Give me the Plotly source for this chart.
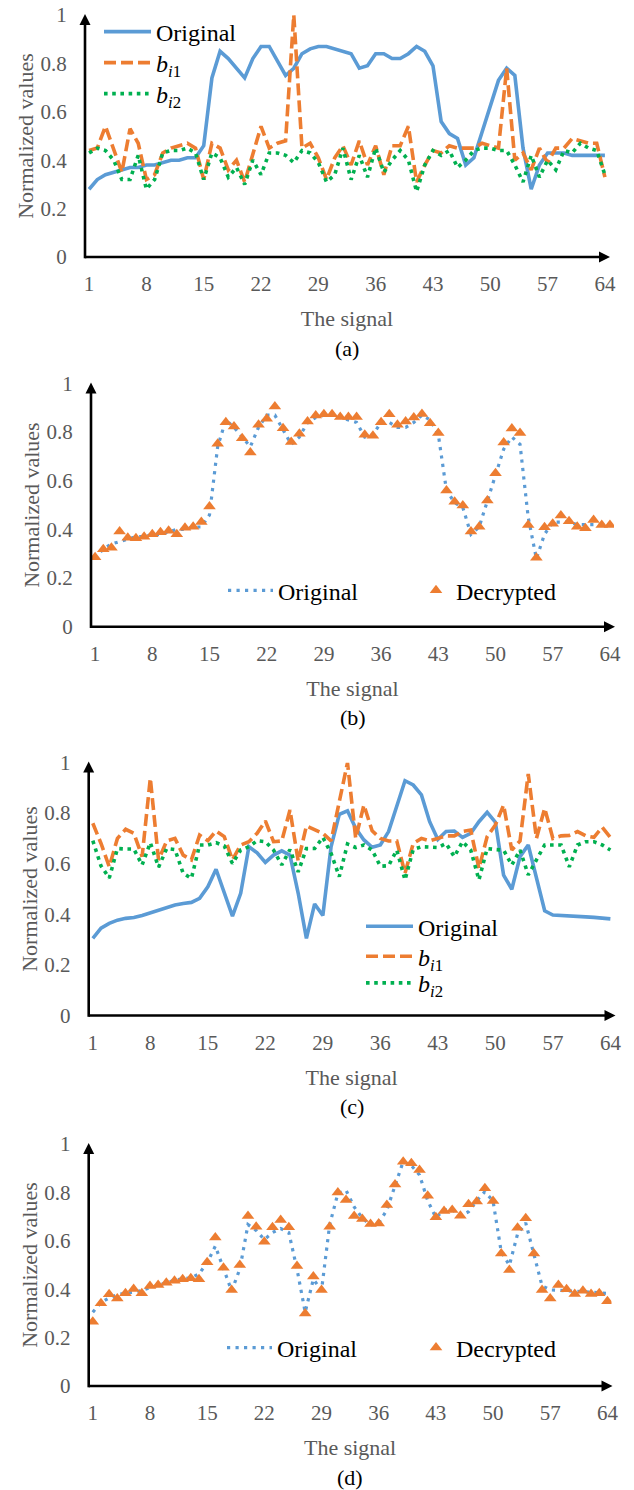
import plotly.graph_objects as go

# ---------------- data ----------------
signal_index = list(range(1, 65))
x_tick_values = [1, 8, 15, 22, 29, 36, 43, 50, 57, 64]
x_tick_labels = ["1", "8", "15", "22", "29", "36", "43", "50", "57", "64"]
y_tick_values = [0, 0.2, 0.4, 0.6, 0.8, 1]
y_tick_labels = ["0", "0.2", "0.4", "0.6", "0.8", "1"]

original_ab = [0.28, 0.32, 0.34, 0.35, 0.36, 0.37, 0.37, 0.38, 0.38, 0.39,
               0.40, 0.40, 0.41, 0.41, 0.46, 0.74, 0.85, 0.82, 0.78, 0.74,
               0.82, 0.87, 0.87, 0.81, 0.75, 0.78, 0.84, 0.86, 0.87, 0.87,
               0.86, 0.85, 0.84, 0.78, 0.79, 0.84, 0.84, 0.82, 0.82, 0.84,
               0.87, 0.85, 0.79, 0.56, 0.51, 0.49, 0.38, 0.41, 0.52, 0.63,
               0.73, 0.78, 0.75, 0.45, 0.28, 0.38, 0.43, 0.43, 0.43, 0.42,
               0.42, 0.42, 0.42, 0.42]
bi1_a = [0.44, 0.45, 0.54, 0.45, 0.35, 0.53, 0.47, 0.32, 0.34, 0.43,
         0.45, 0.46, 0.47, 0.45, 0.32, 0.47, 0.45, 0.36, 0.40, 0.31,
         0.43, 0.54, 0.45, 0.47, 0.48, 1.00, 0.45, 0.47, 0.41, 0.32,
         0.41, 0.46, 0.38, 0.48, 0.38, 0.46, 0.34, 0.46, 0.46, 0.54,
         0.31, 0.38, 0.44, 0.43, 0.46, 0.45, 0.45, 0.45, 0.47, 0.46,
         0.45, 0.78, 0.40, 0.43, 0.36, 0.45, 0.39, 0.45, 0.45, 0.49,
         0.48, 0.47, 0.47, 0.33]
bi2_a = [0.43, 0.45, 0.44, 0.40, 0.32, 0.32, 0.42, 0.28, 0.32, 0.43,
         0.44, 0.44, 0.45, 0.43, 0.32, 0.43, 0.41, 0.33, 0.37, 0.30,
         0.40, 0.34, 0.43, 0.43, 0.42, 0.39, 0.44, 0.43, 0.39, 0.31,
         0.34, 0.45, 0.32, 0.42, 0.33, 0.45, 0.35, 0.40, 0.44, 0.40,
         0.27, 0.38, 0.44, 0.42, 0.44, 0.37, 0.40, 0.44, 0.45, 0.45,
         0.44, 0.44, 0.38, 0.31, 0.42, 0.33, 0.40, 0.36, 0.44, 0.43,
         0.47, 0.45, 0.44, 0.34]
decrypted_b = [0.286, 0.318, 0.325, 0.391, 0.366, 0.364, 0.370, 0.380, 0.388, 0.395,
               0.380, 0.407, 0.411, 0.430, 0.494, 0.752, 0.841, 0.823, 0.775, 0.716,
               0.830, 0.855, 0.905, 0.816, 0.759, 0.793, 0.844, 0.868, 0.874, 0.874,
               0.862, 0.862, 0.862, 0.789, 0.785, 0.841, 0.874, 0.830, 0.844, 0.860,
               0.875, 0.837, 0.796, 0.560, 0.514, 0.498, 0.391, 0.411, 0.519, 0.631,
               0.757, 0.815, 0.796, 0.418, 0.284, 0.409, 0.423, 0.457, 0.434, 0.411,
               0.405, 0.439, 0.418, 0.418]
original_cd = [0.305, 0.345, 0.364, 0.377, 0.384, 0.387, 0.395, 0.406, 0.417, 0.428,
               0.437, 0.443, 0.447, 0.463, 0.509, 0.578, 0.483, 0.393, 0.483, 0.667,
               0.643, 0.605, 0.634, 0.651, 0.634, 0.483, 0.305, 0.441, 0.395, 0.667,
               0.795, 0.809, 0.740, 0.694, 0.665, 0.674, 0.727, 0.832, 0.928, 0.911,
               0.872, 0.766, 0.696, 0.727, 0.729, 0.704, 0.720, 0.766, 0.803, 0.764,
               0.555, 0.499, 0.628, 0.674, 0.549, 0.414, 0.397, 0.396, 0.394, 0.392,
               0.390, 0.388, 0.386, 0.382]
bi1_c = [0.760, 0.680, 0.588, 0.700, 0.736, 0.720, 0.628, 0.938, 0.615, 0.690,
         0.700, 0.634, 0.615, 0.713, 0.691, 0.729, 0.707, 0.615, 0.674, 0.687,
         0.720, 0.769, 0.687, 0.690, 0.812, 0.610, 0.749, 0.733, 0.720, 0.690,
         0.852, 0.999, 0.700, 0.832, 0.730, 0.700, 0.690, 0.690, 0.562, 0.680,
         0.700, 0.690, 0.700, 0.710, 0.710, 0.727, 0.733, 0.581, 0.707, 0.753,
         0.832, 0.654, 0.690, 0.955, 0.700, 0.819, 0.700, 0.710, 0.712, 0.727,
         0.710, 0.704, 0.744, 0.704]
bi2_c = [0.691, 0.591, 0.543, 0.660, 0.658, 0.658, 0.595, 0.683, 0.586, 0.660,
         0.656, 0.562, 0.542, 0.674, 0.674, 0.683, 0.670, 0.601, 0.654, 0.667,
         0.691, 0.687, 0.654, 0.595, 0.656, 0.568, 0.660, 0.660, 0.704, 0.641,
         0.549, 0.678, 0.664, 0.674, 0.654, 0.590, 0.592, 0.654, 0.536, 0.656,
         0.667, 0.667, 0.664, 0.680, 0.628, 0.687, 0.654, 0.536, 0.660, 0.656,
         0.654, 0.595, 0.654, 0.556, 0.614, 0.674, 0.674, 0.674, 0.588, 0.674,
         0.687, 0.687, 0.674, 0.654]
decrypted_d = [0.266, 0.342, 0.379, 0.362, 0.383, 0.401, 0.383, 0.413, 0.417, 0.427,
               0.435, 0.441, 0.445, 0.441, 0.511, 0.614, 0.489, 0.397, 0.500, 0.702,
               0.658, 0.596, 0.656, 0.686, 0.656, 0.496, 0.300, 0.452, 0.397, 0.658,
               0.800, 0.769, 0.702, 0.690, 0.669, 0.672, 0.748, 0.833, 0.927, 0.920,
               0.893, 0.786, 0.697, 0.723, 0.727, 0.704, 0.751, 0.762, 0.817, 0.764,
               0.548, 0.479, 0.654, 0.693, 0.548, 0.397, 0.362, 0.417, 0.400, 0.380,
               0.394, 0.380, 0.383, 0.350]
captions = ["(a)", "(b)", "(c)", "(d)"]
x_title = "The signal"
y_title = "Normalized values"
name_original = "Original"
name_decrypted = "Decrypted"
name_bi1 = "<i>b</i><sub><i>i</i>1</sub>"
name_bi2 = "<i>b</i><sub><i>i</i>2</sub>"

# ---------------- styling ----------------
W, H = 634, 1490
FONT = "Liberation Serif"
GRAY = "#595959"
BLUE = "#5B9BD5"
ORANGE = "#ED7D31"
GREEN = "#00B050"

# plot areas in pixels (left, right, top, bottom)
areas = [(85, 609, 15, 257), (91, 614, 383.5, 626.7),
         (88.7, 614.5, 762.5, 1015.5), (88.7, 611.5, 1144, 1386)]


def px_x(p):
    return p / W


def px_y(p):
    return 1 - p / H


solid_blue = dict(color=BLUE, width=3.6)
dotted_blue = dict(color=BLUE, width=3.2, dash="3.2px,5.3px")
dashed_orange = dict(color=ORANGE, width=3.6, dash="12px,5px")
dotted_green = dict(color=GREEN, width=3.6, dash="3.6px,4.6px")
tri = dict(symbol="triangle-up", size=11, color=ORANGE, line=dict(width=0))

fig = go.Figure()
# panel a
fig.add_trace(go.Scatter(x=signal_index, y=original_ab, mode="lines", line=solid_blue,
                         name=name_original, xaxis="x", yaxis="y", legend="legend"))
fig.add_trace(go.Scatter(x=signal_index, y=bi1_a, mode="lines", line=dashed_orange,
                         name=name_bi1, xaxis="x", yaxis="y", legend="legend2"))
fig.add_trace(go.Scatter(x=signal_index, y=bi2_a, mode="lines", line=dotted_green,
                         name=name_bi2, xaxis="x", yaxis="y", legend="legend3"))
# panel b
fig.add_trace(go.Scatter(x=signal_index, y=original_ab, mode="lines", line=dotted_blue,
                         name=name_original, xaxis="x2", yaxis="y2", legend="legend4"))
fig.add_trace(go.Scatter(x=signal_index, y=decrypted_b, mode="markers", marker=tri,
                         name=name_decrypted, xaxis="x2", yaxis="y2", legend="legend5"))
# panel c
fig.add_trace(go.Scatter(x=signal_index, y=original_cd, mode="lines", line=solid_blue,
                         name=name_original, xaxis="x3", yaxis="y3", legend="legend6"))
fig.add_trace(go.Scatter(x=signal_index, y=bi1_c, mode="lines", line=dashed_orange,
                         name=name_bi1, xaxis="x3", yaxis="y3", legend="legend7"))
fig.add_trace(go.Scatter(x=signal_index, y=bi2_c, mode="lines", line=dotted_green,
                         name=name_bi2, xaxis="x3", yaxis="y3", legend="legend8"))
# panel d
fig.add_trace(go.Scatter(x=signal_index, y=original_cd, mode="lines", line=dotted_blue,
                         name=name_original, xaxis="x4", yaxis="y4", legend="legend9"))
fig.add_trace(go.Scatter(x=signal_index, y=decrypted_d, mode="markers", marker=tri,
                         name=name_decrypted, xaxis="x4", yaxis="y4", legend="legend10"))

layout = dict(width=W, height=H, margin=dict(l=0, r=0, t=0, b=0, autoexpand=False),
              paper_bgcolor="white", plot_bgcolor="white", template="none",
              font=dict(family=FONT, size=21, color=GRAY), showlegend=True)

annotations = []
shapes = []
for k, (L, R, T, B) in enumerate(areas):
    sfx = "" if k == 0 else str(k + 1)
    layout["xaxis" + sfx] = dict(
        domain=[px_x(L), px_x(R)], anchor="y" + sfx, range=[0.5, 64.5],
        tickmode="array", tickvals=x_tick_values, ticktext=x_tick_labels,
        ticks="outside", ticklen=8, tickcolor="rgba(0,0,0,0)",
        showgrid=False, zeroline=False, showline=False, automargin=False,
        tickfont=dict(family=FONT, size=21, color=GRAY), fixedrange=True,
        title=dict(text=x_title, standoff=15, font=dict(family=FONT, size=22, color=GRAY)))
    layout["yaxis" + sfx] = dict(
        domain=[px_y(B), px_y(T)], anchor="x" + sfx, range=[0, 1],
        tickmode="array", tickvals=y_tick_values, ticktext=y_tick_labels,
        ticks="outside", ticklen=13, tickcolor="rgba(0,0,0,0)",
        showgrid=False, zeroline=False, showline=False, automargin=False,
        tickfont=dict(family=FONT, size=21, color=GRAY), fixedrange=True,
        title=dict(text=y_title, standoff=0, font=dict(family=FONT, size=22, color=GRAY)))
    xd, yd = "x" + sfx + " domain", "y" + sfx + " domain"
    pw, ph = R - L, B - T
    # axis lines (pixel-sized relative to the plot corners) with arrow heads
    shapes.append(dict(type="line", xref=xd, yref=yd, xsizemode="pixel", xanchor=0,
                       x0=0, x1=pw - 8, y0=0, y1=0,
                       line=dict(color="black", width=2.6)))
    shapes.append(dict(type="path", xref=xd, yref=yd, xsizemode="pixel", ysizemode="pixel",
                       xanchor=1, yanchor=0, path="M-10,5.5 L1,0 L-10,-5.5 Z",
                       fillcolor="black", line=dict(width=0)))
    shapes.append(dict(type="line", xref=xd, yref=yd, ysizemode="pixel", yanchor=0,
                       x0=0, x1=0, y0=-1.3, y1=ph - 8,
                       line=dict(color="black", width=2.6)))
    shapes.append(dict(type="path", xref=xd, yref=yd, xsizemode="pixel", ysizemode="pixel",
                       xanchor=0, yanchor=1, path="M-5.5,-10 L0,1 L5.5,-10 Z",
                       fillcolor="black", line=dict(width=0)))
    # caption below each panel
    cx = (L + R) / 2
    annotations.append(dict(x=px_x(cx), y=px_y(B + 91), xref="paper", yref="paper",
                            text=captions[k], showarrow=False, xanchor="center", yanchor="middle",
                            font=dict(family=FONT, size=22, color="black")))
layout["annotations"] = annotations
layout["shapes"] = shapes

leg_font = dict(family=FONT, size=24, color="black")
common = dict(bgcolor="rgba(0,0,0,0)", borderwidth=0, font=leg_font,
              xanchor="left", yanchor="middle", orientation="h")
legend_spots = [  # (x px, y px, symbol width)
    (99, 32, 47), (99, 63, 47), (99, 94, 47),
    (223, 590.7, 45), (416, 590.7, 30),
    (361, 926.7, 47), (361, 956.7, 47), (361, 983.3, 47),
    (222, 1348, 45), (416, 1348, 30),
]
for n, (lx, ly, iw) in enumerate(legend_spots):
    key = "legend" if n == 0 else "legend" + str(n + 1)
    layout[key] = dict(common, x=px_x(lx), y=px_y(ly), itemwidth=iw)

fig.update_layout(**layout)
fig.write_html("out.html", config={"displayModeBar": False},
               post_script="document.body.style.margin='0px';")
